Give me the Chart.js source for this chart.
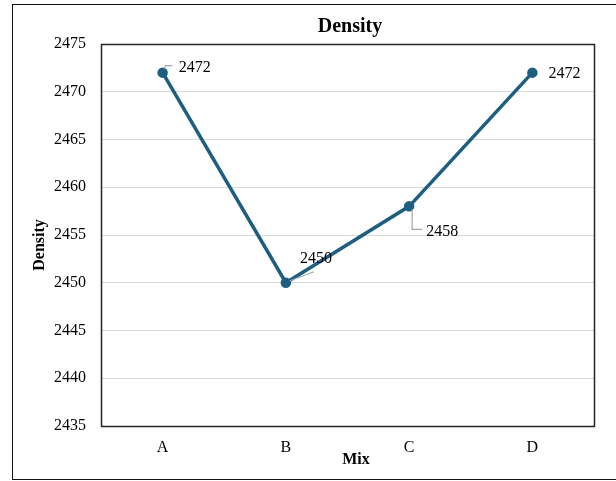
<!DOCTYPE html>
<html>
<head>
<meta charset="utf-8">
<script src="https://cdn.jsdelivr.net/npm/chart.js@4.4.1/dist/chart.umd.min.js"></script>
<style>
  html, body { margin: 0; padding: 0; background: #fff; overflow: hidden; }
  #wrap { position: relative; width: 616px; height: 481px; overflow: hidden; }
  #frame { position: absolute; left: 12px; top: 4px; width: 610px; height: 476px; border: 1.5px solid #111; box-sizing: border-box; pointer-events: none; }
  canvas { position: absolute; left: 0; top: 0; }
</style>
</head>
<body>
<div id="wrap">
  <canvas id="c" width="616" height="481"></canvas>
  <div id="frame"></div>
</div>
<script>
// Mix categories and measured density
const mixes = ['A', 'B', 'C', 'D'];
const density = [2472, 2450, 2458, 2472];
const yTicks = [2435, 2440, 2445, 2450, 2455, 2460, 2465, 2470, 2475];

const SERIF = '"Liberation Serif", "Times New Roman", serif';
const LINE = '#1e5f80';

// Where each value label sits relative to its point, and its leader line
const labelPlacement = [
  { dx: 32, dy: -5, leader: [[2, -4], [3, -7], [10, -7]] },
  { dx: 30, dy: -24, leader: [[4, -2], [28, -11]] },
  { dx: 33, dy: 25, leader: [[3, 3], [3, 23], [13, 23]] },
  { dx: 32, dy: 1, leader: null }
];

const valueLabels = {
  id: 'valueLabels',
  afterDatasetsDraw(chart) {
    const ctx = chart.ctx;
    const meta = chart.getDatasetMeta(0);
    ctx.save();
    meta.data.forEach((pt, i) => {
      const p = labelPlacement[i];
      if (p.leader) {
        ctx.beginPath();
        ctx.strokeStyle = '#a6a6a6';
        ctx.lineWidth = 1.2;
        p.leader.forEach(([lx, ly], k) => {
          if (k === 0) ctx.moveTo(pt.x + lx, pt.y + ly);
          else ctx.lineTo(pt.x + lx, pt.y + ly);
        });
        ctx.stroke();
      }
      ctx.fillStyle = '#000';
      ctx.font = '16px ' + SERIF;
      ctx.textAlign = 'center';
      ctx.textBaseline = 'middle';
      ctx.fillText(String(density[i]), pt.x + p.dx, pt.y + p.dy);
    });
    ctx.restore();
  }
};

const frameAndTitles = {
  id: 'frameAndTitles',
  beforeDatasetsDraw(chart) {
    const { ctx, chartArea: a } = chart;
    ctx.save();
    ctx.strokeStyle = '#262626';
    ctx.lineWidth = 1.5;
    ctx.strokeRect(Math.round(a.left) + 0.5, Math.round(a.top) + 0.5,
      Math.round(a.right - a.left), Math.round(a.bottom - a.top));
    ctx.restore();
  },
  afterDraw(chart) {
    const { ctx } = chart;
    ctx.save();
    ctx.fillStyle = '#000';
    ctx.textAlign = 'center';
    ctx.textBaseline = 'middle';
    ctx.font = 'bold 20px ' + SERIF;
    ctx.fillText('Density', 350, 27);
    ctx.font = 'bold 16px ' + SERIF;
    ctx.fillText('Mix', 356, 460);
    ctx.translate(40, 245);
    ctx.rotate(-Math.PI / 2);
    ctx.fillText('Density', 0, 0);
    ctx.restore();
  }
};

new Chart(document.getElementById('c'), {
  type: 'line',
  data: {
    labels: mixes,
    datasets: [{
      data: density,
      borderColor: LINE,
      backgroundColor: LINE,
      borderWidth: 3.5,
      pointRadius: 3.5,
      pointHoverRadius: 3.5,
      tension: 0,
      clip: false
    }]
  },
  options: {
    responsive: false,
    animation: false,
    layout: { padding: { left: 0, top: 44, right: 22, bottom: 0 } },
    plugins: { legend: { display: false }, tooltip: { enabled: false }, title: { display: false } },
    scales: {
      x: {
        offset: true,
        grid: { display: false, drawTicks: false },
        border: { display: false },
        ticks: { color: '#000', padding: 12, font: { family: SERIF, size: 16 } },
        afterFit(s) { s.height = 55; }
      },
      y: {
        min: 2435,
        max: 2475,
        afterBuildTicks(s) { s.ticks = yTicks.map(v => ({ value: v })); },
        grid: { color: '#d9d9d9', lineWidth: 1, drawTicks: false },
        border: { display: false },
        ticks: {
          color: '#000', padding: 15, font: { family: SERIF, size: 16 },
          callback: v => String(v)
        },
        afterFit(s) { s.width = 101; }
      }
    }
  },
  plugins: [frameAndTitles, valueLabels]
});
</script>
</body>
</html>
